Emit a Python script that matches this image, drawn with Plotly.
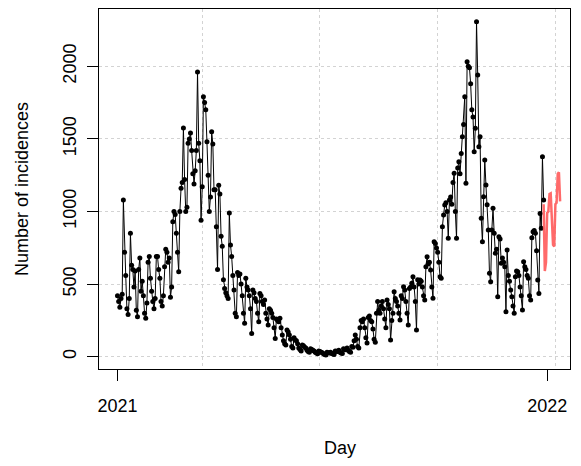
import plotly.graph_objects as go

# Observed daily incidences (day 0 = 1 Jan 2021)
obs_values = [
    420, 380, 340, 400, 430, 1080, 720, 560, 330, 290,
    400, 850, 630, 600, 480, 590, 320, 275, 600, 680,
    450, 520, 420, 300, 265, 370, 650, 690, 540, 450,
    380, 330, 400, 690, 690, 600, 540, 380, 350, 420,
    620, 740, 720, 650, 680, 410, 480, 930, 1000, 980,
    850, 720, 585, 1000, 1160, 1200, 1575, 1220, 1000, 1030,
    1470, 1500, 1540, 1420, 1260, 1190, 1280, 1420, 1960, 1470,
    1350, 940, 1170, 1790, 1750, 1700, 1480, 1250, 1000, 1100,
    1550, 1465, 1150, 1150, 895, 600, 1180, 1120, 830, 760,
    530, 470, 440, 420, 400, 990, 770, 690, 560, 460,
    300, 275, 580, 560, 570, 500, 420, 300, 230, 540,
    480, 460, 420, 330, 160, 460, 440, 400, 380, 300,
    240, 436, 420, 380, 360, 390, 300, 260, 218, 330,
    320, 300, 270, 200, 126, 260, 250, 240, 265, 200,
    150, 110, 90, 80, 184, 170, 150, 120, 70, 60,
    130, 115, 110, 90, 60, 50, 40, 80, 75, 65,
    60, 45, 35, 30, 55, 50, 45, 40, 30, 25,
    20, 40, 35, 30, 28, 20, 15, 12, 30, 28,
    25, 30, 22, 18, 15, 40, 38, 35, 45, 30,
    25, 22, 55, 50, 48, 60, 45, 35, 30, 70,
    65, 110, 150, 120, 70, 60, 200, 250, 240, 260,
    200, 130, 95, 270, 280, 250, 240, 190, 120, 100,
    300, 380, 320, 300, 350, 380, 330, 260, 200, 390,
    360, 330, 115, 250, 300, 448, 400, 380, 350, 300,
    253, 420, 400, 482, 460, 380, 300, 218, 470, 480,
    506, 551, 480, 380, 184, 530, 500, 528, 520, 480,
    420, 390, 620, 689, 640, 650, 597, 480, 402, 792,
    780, 748, 720, 650, 551, 540, 895, 976, 1045, 1060,
    1000, 816, 1080, 1100, 1050, 1200, 1263, 1000, 816, 1300,
    1343, 1260, 1400, 1515, 1600, 1790, 1194, 2031, 2000, 1990,
    1880, 1700, 1650, 1412, 1573, 2307, 1940, 1446, 1515, 954,
    792, 1102, 1355, 1182, 1046, 873, 574, 517, 873, 1022,
    850, 713, 740, 413, 826, 810, 643, 680, 650, 620,
    310, 735, 560, 520, 460, 413, 350, 299, 551, 590,
    585, 560, 480, 420, 322, 654, 620, 600, 560, 540,
    420, 390, 820, 861, 870, 850, 730, 528, 436, 987,
    884, 1377, 1080,
]
obs_days = list(range(len(obs_values)))

# Forecast (red)
fc_days = [362, 363, 364, 365, 366, 367, 368, 369, 370, 371, 372, 373, 374, 375, 376]
fc_values = [1050, 590, 650, 990, 1000, 1120, 1125, 920, 770, 760, 1050, 1060, 1260, 1270, 1070]

x_tickvals = [0, 365]
x_ticktext = ["2021", "2022"]
x_gridvals = [72, 172, 272, 372]
y_tickvals = [0, 500, 1000, 1500, 2000]

fig = go.Figure()
fig.add_trace(go.Scatter(
    x=obs_days, y=obs_values, mode="lines+markers",
    line=dict(color="black", width=1),
    marker=dict(color="black", size=5),
    showlegend=False,
))
fig.add_trace(go.Scatter(
    x=fc_days, y=fc_values, mode="lines",
    line=dict(color="rgba(255,90,90,0.9)", width=2.5),
    showlegend=False,
))

font = "Liberation Sans, Arial, sans-serif"
fig.update_layout(
    width=581, height=466,
    margin=dict(l=99, r=11, t=9, b=97),
    paper_bgcolor="white", plot_bgcolor="white",
    font=dict(family=font, size=18, color="black"),
    xaxis=dict(
        range=[-15.7, 384.4], tickmode="array", tickvals=x_tickvals, ticktext=x_ticktext,
        showgrid=False, zeroline=False, showline=True, mirror=True,
        linecolor="black", linewidth=1, ticks="outside", ticklen=11, tickcolor="black",
        ticklabelstandoff=9,
        minor=dict(tickmode="array", tickvals=x_gridvals, showgrid=True,
                   gridcolor="#d3d3d3", griddash="dot", gridwidth=1, ticks=""),
    ),
    yaxis=dict(
        range=[-84.7, 2394.6], tickmode="array", tickvals=y_tickvals,
        showgrid=True, gridcolor="#d3d3d3", griddash="dot", gridwidth=1,
        zeroline=False, showline=True, mirror=True,
        linecolor="black", linewidth=1, ticks="outside", ticklen=11, tickcolor="black",
        tickangle=-90, ticklabelstandoff=4,
    ),
    annotations=[
        dict(text="Day", xref="paper", yref="paper", x=(340 - 99) / 471, y=(369 - 448) / 360,
             showarrow=False, xanchor="center", yanchor="middle", font=dict(size=18)),
        dict(text="Number of incidences", xref="paper", yref="paper",
             x=(22 - 99) / 471, y=0.5, textangle=-90,
             showarrow=False, xanchor="center", yanchor="middle", font=dict(size=18)),
    ],
)

fig.write_html("out.html")
